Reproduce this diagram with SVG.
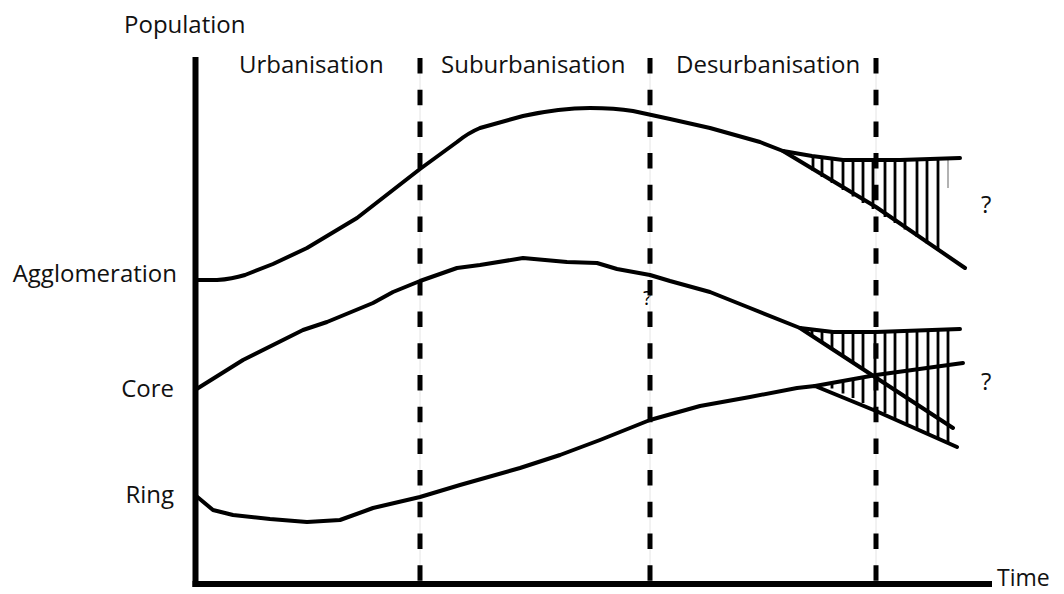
<svg xmlns="http://www.w3.org/2000/svg" width="1064" height="594" viewBox="0 0 1064 594">
<style>
text{font-family:"Open Sans","Liberation Sans",sans-serif;font-size:24px;fill:#111}
.c{fill:none;stroke:#000;stroke-width:4;stroke-linejoin:round;stroke-linecap:round}
.h{stroke:#000;stroke-width:2.8}
.d{stroke:#000;stroke-width:5;stroke-dasharray:15.5 16.2}
.g{stroke:#e4e4e4;stroke-width:1}
.ax{stroke:#000;stroke-width:6}
</style>
<rect width="1064" height="594" fill="#fff"/>
<g id="labels">
<text x="124" y="33">Population</text>
<text x="239" y="73">Urbanisation</text>
<text x="441" y="73">Suburbanisation</text>
<text x="676" y="73">Desurbanisation</text>
<text x="177" y="282" text-anchor="end">Agglomeration</text>
<text x="174" y="397" text-anchor="end">Core</text>
<text x="174" y="503" text-anchor="end">Ring</text>
<text x="997" y="586" style="font-size:23px">Time</text>
<text x="981" y="213">?</text>
<text x="981" y="390">?</text>
<text x="643" y="305" style="font-size:20px;fill:#000">?</text>
</g>
<g id="phases">
<line class="g" x1="420" y1="58" x2="420" y2="584"/>
<line class="g" x1="650" y1="58" x2="650" y2="584"/>
<line class="g" x1="876" y1="58" x2="876" y2="584"/>
<line class="d" x1="420" y1="58" x2="420" y2="584"/>
<line class="d" x1="650" y1="58" x2="650" y2="584"/>
<line class="d" x1="876" y1="58" x2="876" y2="584"/>
</g>
<g id="hatching">
<line class="h" x1="813" y1="155" x2="813" y2="171"/>
<line class="h" x1="822" y1="156.5" x2="822" y2="177"/>
<line class="h" x1="832" y1="158" x2="832" y2="183"/>
<line class="h" x1="843" y1="160" x2="843" y2="190"/>
<line class="h" x1="853" y1="160" x2="853" y2="196.5"/>
<line class="h" x1="863" y1="160" x2="863" y2="203"/>
<line class="h" x1="873" y1="160" x2="873" y2="209"/>
<line class="h" x1="885" y1="160" x2="885" y2="217"/>
<line class="h" x1="895" y1="160" x2="895" y2="223"/>
<line class="h" x1="905" y1="160" x2="905" y2="229.5"/>
<line class="h" x1="917" y1="160" x2="917" y2="237"/>
<line class="h" x1="927" y1="160" x2="927" y2="243.5"/>
<line class="h" x1="938" y1="160" x2="938" y2="250.5"/>
<line x1="948" y1="160" x2="948" y2="188" stroke="#999" stroke-width="1.5"/>
<line class="h" x1="812" y1="329" x2="812" y2="336"/>
<line class="h" x1="822" y1="330" x2="822" y2="342"/>
<line class="h" x1="832" y1="331" x2="832" y2="349"/>
<line class="h" x1="843" y1="331" x2="843" y2="356"/>
<line class="h" x1="853" y1="331" x2="853" y2="362.5"/>
<line class="h" x1="863" y1="331" x2="863" y2="369"/>
<line class="h" x1="875" y1="331" x2="875" y2="377"/>
<line class="h" x1="832" y1="383.5" x2="832" y2="388.5"/>
<line class="h" x1="843" y1="381.5" x2="843" y2="393.5"/>
<line class="h" x1="853" y1="380" x2="853" y2="398"/>
<line class="h" x1="863" y1="378" x2="863" y2="403"/>
<line class="h" x1="875" y1="376" x2="875" y2="408.5"/>
<line class="h" x1="885" y1="331" x2="885" y2="413"/>
<line class="h" x1="895" y1="331" x2="895" y2="418"/>
<line class="h" x1="907" y1="330.5" x2="907" y2="423.5"/>
<line class="h" x1="917" y1="330.5" x2="917" y2="428.5"/>
<line class="h" x1="928" y1="330" x2="928" y2="433.5"/>
<line class="h" x1="938" y1="330" x2="938" y2="438"/>
<line class="h" x1="948" y1="330" x2="948" y2="442"/>
</g>
<g id="curves">
<path id="agglomeration" class="c" d="M195,280 L217,280 Q232,279 245,275 L273,264 L307,248 L357,218 L420,169 L457,142 Q468,133 480,128 L523,116 Q560,108 590,108 Q615,108 633,111 L670,119 L710,128 L760,142 L783,151 L876,207 L965,268"/>
<path class="c" d="M783,151 L812,156 L843,160 L900,160 L960,158"/>
<path id="core" class="c" d="M195,390 L243,360 L303,330 L327,322 L373,303 L393,292 L420,281 L457,268 L480,265 L523,258 L567,262 L597,263 L617,269 L650,275 L670,281 L710,292 L750,308 L800,328 L953,428"/>
<path class="c" d="M800,328 L833,332 L876,332 L960,329"/>
<path id="ring" class="c" d="M195,495 L213,510 L233,515 L270,519 L307,522 L340,520 L373,508 L420,497 L460,485 L520,468 L560,455 L600,440 L650,420 L700,406 L750,397 L797,388 L815,386 L876,411 L957,447"/>
<path class="c" d="M815,386 L876,375 L963,363"/>
</g>
<g id="axes">
<line class="ax" x1="195.5" y1="57" x2="195.5" y2="587"/>
<line class="ax" x1="192.5" y1="584" x2="992" y2="584"/>
</g>
</svg>
